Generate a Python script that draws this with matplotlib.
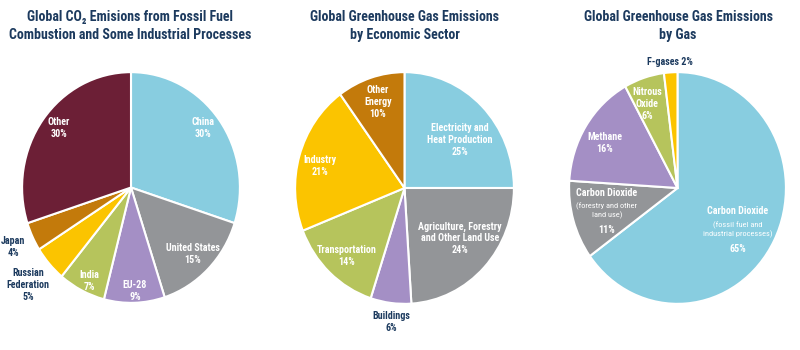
import matplotlib.pyplot as plt
from matplotlib import font_manager

names = set(f.name for f in font_manager.fontManager.ttflist)
narrow = 'Roboto Condensed' if 'Roboto Condensed' in names else 'Roboto'
plt.rcParams['font.family'] = [narrow, 'DejaVu Sans']

# data
co2_labels = ['China', 'United States', 'EU-28', 'India', 'Russian Federation', 'Japan', 'Other']
co2_values = [30, 15, 9, 7, 5, 4, 30]
co2_colors = ['#88cde0', '#939598', '#a48fc5', '#b6c45c', '#fbc400', '#c37a0b', '#6c1f36']

sector_labels = ['Electricity and Heat Production', 'Agriculture, Forestry and Other Land Use',
                 'Buildings', 'Transportation', 'Industry', 'Other Energy']
sector_values = [25, 24, 6, 14, 21, 10]
sector_colors = ['#88cde0', '#939598', '#a48fc5', '#b6c45c', '#fbc400', '#c37a0b']

gas_labels = ['Carbon Dioxide (fossil fuel and industrial processes)',
              'Carbon Dioxide (forestry and other land use)', 'Methane', 'Nitrous Oxide', 'F-gases']
gas_values = [65, 11, 16, 6, 2]
gas_colors = ['#88cde0', '#939598', '#a48fc5', '#b6c45c', '#fbc400']

W, H = 800, 350
navy = '#1c3a5e'
fig = plt.figure(figsize=(8, 3.5), dpi=100)


def pie_axes(x0, x1, y0, y1, values, colors):
    ax = fig.add_axes([x0 / W, 1 - y1 / H, (x1 - x0) / W, (y1 - y0) / H])
    ax.pie(values, colors=colors, startangle=90, counterclock=False,
           wedgeprops=dict(edgecolor='white', linewidth=1.5))
    ax.set_aspect('auto')
    ax.set_xlim(-1.01, 1.01)
    ax.set_ylim(-1.01, 1.01)
    ax.axis('off')
    return ax


def txt(x, y, s, color='white', size=7.2, weight='bold'):
    fig.text(x / W, 1 - y / H, s, color=color, fontsize=size, fontweight=weight,
             ha='center', va='center', linespacing=1.2)


def title(x, s):
    fig.text(x / W, 1 - 26 / H, s, color=navy, fontsize=10, fontweight='bold',
             ha='center', va='center', linespacing=1.3)


pie_axes(21, 241, 71, 304, co2_values, co2_colors)
pie_axes(294, 515, 71, 305, sector_values, sector_colors)
pie_axes(568, 787, 71, 305, gas_values, gas_colors)

title(130, 'Global CO\u2082 Emisions from Fossil Fuel\nCombustion and Some Industrial Processes')
title(405, 'Global Greenhouse Gas Emissions\nby Economic Sector')
title(678, 'Global Greenhouse Gas Emissions\nby Gas')

# pie 1 labels
txt(59, 128, 'Other\n30%')
txt(203, 128, 'China\n30%')
txt(193, 254, 'United States\n15%')
txt(135, 291, 'EU-28\n9%')
txt(89, 281, 'India\n7%')
txt(28, 285, 'Russian\nFederation\n5%', color=navy)
txt(13, 247, 'Japan\n4%', color=navy)

# pie 2 labels
txt(378, 102, 'Other\nEnergy\n10%')
txt(460, 140, 'Electricity and\nHeat Production\n25%')
txt(320, 166, 'Industry\n21%')
txt(347, 256, 'Transportation\n14%')
txt(391, 322, 'Buildings\n6%', color=navy)
txt(460, 238, 'Agriculture, Forestry\nand Other Land Use\n24%')

# pie 3 labels
txt(670, 62, 'F-gases 2%', color=navy)
txt(647, 104, 'Nitrous\nOxide\n6%')
txt(605, 143, 'Methane\n16%')
txt(607, 193, 'Carbon Dioxide')
txt(607, 211, '(forestry and other\nland use)', size=6, weight='normal')
txt(607, 230, '11%')
txt(738, 211, 'Carbon Dioxide')
txt(738, 230, '(fossil fuel and\nindustrial processes)', size=6, weight='normal')
txt(738, 249, '65%')

fig.savefig('out.png', dpi=100, facecolor='white')
